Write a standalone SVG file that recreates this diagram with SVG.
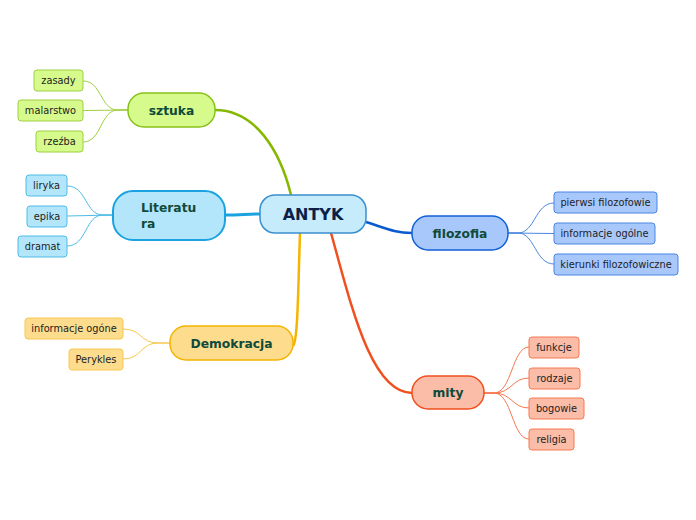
<svg xmlns="http://www.w3.org/2000/svg" width="696" height="520" viewBox="0 0 696 520">
<style>
text{font-family:"DejaVu Sans","Verdana",sans-serif}
.main{font-size:12.3px;font-weight:bold;fill:#0f4a3a;text-anchor:middle}
.leaf{font-size:9.8px;fill:#222;text-anchor:middle}
.c{fill:none}
</style>
<rect width="696" height="520" fill="#ffffff"/>
<g id="connectors">
<path class="c" d="M291 195 C280 150 255 110 215 110" stroke="#86b800" stroke-width="2.5"/>
<path class="c" d="M225 215 C240 215 248 214 260 214" stroke="#1aa3e0" stroke-width="3"/>
<path class="c" d="M300 233 C298 290 298 340 293 346" stroke="#f5b400" stroke-width="2.5"/>
<path class="c" d="M366 222 C385 228 395 233 412 233" stroke="#0a5ad0" stroke-width="2.5"/>
<path class="c" d="M331 233 C350 300 370 393 412 393" stroke="#f0501e" stroke-width="2.5"/>
<g stroke="#9fcf40" stroke-width="1">
<path class="c" d="M128 110 L118 110 C100 110 102 81 83 81"/>
<path class="c" d="M128 110 L83 110.5"/>
<path class="c" d="M128 110 L118 110 C100 110 102 142 83 142"/>
</g>
<g stroke="#4cbce8" stroke-width="1">
<path class="c" d="M113 215 L103 215 C85 215 87 186 67 186"/>
<path class="c" d="M113 215 L67 216"/>
<path class="c" d="M113 215 L103 215 C85 215 87 246 67 246"/>
</g>
<g stroke="#f8c850" stroke-width="1">
<path class="c" d="M170 343 L158 343 C140 343 142 329 123 329"/>
<path class="c" d="M170 343 L158 343 C140 343 142 359 123 359"/>
</g>
<g stroke="#4a86e0" stroke-width="1">
<path class="c" d="M508 233 L518 233 C535 233 535 203 554 203"/>
<path class="c" d="M508 233 L554 233.5"/>
<path class="c" d="M508 233 L518 233 C535 233 535 264 554 264"/>
</g>
<g stroke="#f57850" stroke-width="1">
<path class="c" d="M484 393 L494 393 C512 393 512 347 529 347"/>
<path class="c" d="M484 393 L494 393 C512 393 512 378 529 378"/>
<path class="c" d="M484 393 L494 393 C512 393 512 408 529 408"/>
<path class="c" d="M484 393 L494 393 C512 393 512 439 529 439"/>
</g>
</g>
<g id="antyk">
<rect x="260" y="195" width="106" height="38" rx="15" fill="#c6ecfb" stroke="#3a8fcf" stroke-width="1.5"/>
<text x="313" y="220" font-size="16" font-weight="bold" fill="#0b1f4a" text-anchor="middle">ANTYK</text>
</g>
<g id="sztuka">
<rect x="128" y="93" width="87" height="34" rx="16" fill="#d6fb8c" stroke="#86c21a" stroke-width="1.5"/>
<text class="main" x="171.5" y="114.5">sztuka</text>
</g>
<g id="literatura">
<rect x="113" y="191" width="112" height="49" rx="20" fill="#b4e6fb" stroke="#1aa3e0" stroke-width="2"/>
<text class="main" x="141" y="212" style="text-anchor:start">Literatu</text>
<text class="main" x="141" y="228" style="text-anchor:start">ra</text>
</g>
<g id="demokracja">
<rect x="170" y="326" width="123" height="34" rx="16" fill="#fddc8e" stroke="#f5b400" stroke-width="1.5"/>
<text class="main" x="231.5" y="347.5">Demokracja</text>
</g>
<g id="filozofia">
<rect x="412" y="216" width="96" height="34" rx="16" fill="#a8c8fc" stroke="#1060d8" stroke-width="1.5"/>
<text class="main" x="460" y="237.5">filozofia</text>
</g>
<g id="mity">
<rect x="412" y="376" width="72" height="33" rx="16" fill="#fbbca8" stroke="#f0501e" stroke-width="1.5"/>
<text class="main" x="448" y="397">mity</text>
</g>
<g id="zasady"><rect x="34" y="70" width="49" height="21" rx="3" fill="#d6fb8c" stroke="#9fcf40"/><text class="leaf" x="58.5" y="84">zasady</text></g>
<g id="malarstwo"><rect x="18" y="100" width="65" height="21" rx="3" fill="#d6fb8c" stroke="#9fcf40"/><text class="leaf" x="50.5" y="114">malarstwo</text></g>
<g id="rzezba"><rect x="36" y="131" width="47" height="21" rx="3" fill="#d6fb8c" stroke="#9fcf40"/><text class="leaf" x="59.5" y="145">rzeźba</text></g>
<g id="liryka"><rect x="26" y="175" width="41" height="21" rx="3" fill="#b4e6fb" stroke="#4cbce8"/><text class="leaf" x="46.5" y="189">liryka</text></g>
<g id="epika"><rect x="27" y="206" width="40" height="21" rx="3" fill="#b4e6fb" stroke="#4cbce8"/><text class="leaf" x="47" y="220">epika</text></g>
<g id="dramat"><rect x="18" y="236" width="49" height="21" rx="3" fill="#b4e6fb" stroke="#4cbce8"/><text class="leaf" x="42.5" y="250">dramat</text></g>
<g id="informacje-ogone"><rect x="25" y="318" width="98" height="21" rx="3" fill="#fddc8e" stroke="#f8c850"/><text class="leaf" x="74" y="332">informacje ogóne</text></g>
<g id="perykles"><rect x="69" y="349" width="54" height="21" rx="3" fill="#fddc8e" stroke="#f8c850"/><text class="leaf" x="96" y="363">Perykles</text></g>
<g id="pierwsi"><rect x="554" y="192" width="103" height="21" rx="3" fill="#a8c8fc" stroke="#4a86e0"/><text class="leaf" x="605.5" y="206">pierwsi filozofowie</text></g>
<g id="informacje-ogolne"><rect x="554" y="223" width="101" height="21" rx="3" fill="#a8c8fc" stroke="#4a86e0"/><text class="leaf" x="604.5" y="237">informacje ogólne</text></g>
<g id="kierunki"><rect x="554" y="254" width="124" height="21" rx="3" fill="#a8c8fc" stroke="#4a86e0"/><text class="leaf" x="616" y="268">kierunki filozofowiczne</text></g>
<g id="funkcje"><rect x="529" y="337" width="50" height="21" rx="3" fill="#fbbca8" stroke="#f57850"/><text class="leaf" x="554" y="351">funkcje</text></g>
<g id="rodzaje"><rect x="529" y="368" width="51" height="21" rx="3" fill="#fbbca8" stroke="#f57850"/><text class="leaf" x="554.5" y="382">rodzaje</text></g>
<g id="bogowie"><rect x="529" y="398" width="55" height="21" rx="3" fill="#fbbca8" stroke="#f57850"/><text class="leaf" x="556.5" y="412">bogowie</text></g>
<g id="religia"><rect x="529" y="429" width="45" height="21" rx="3" fill="#fbbca8" stroke="#f57850"/><text class="leaf" x="551.5" y="443">religia</text></g>
</svg>
